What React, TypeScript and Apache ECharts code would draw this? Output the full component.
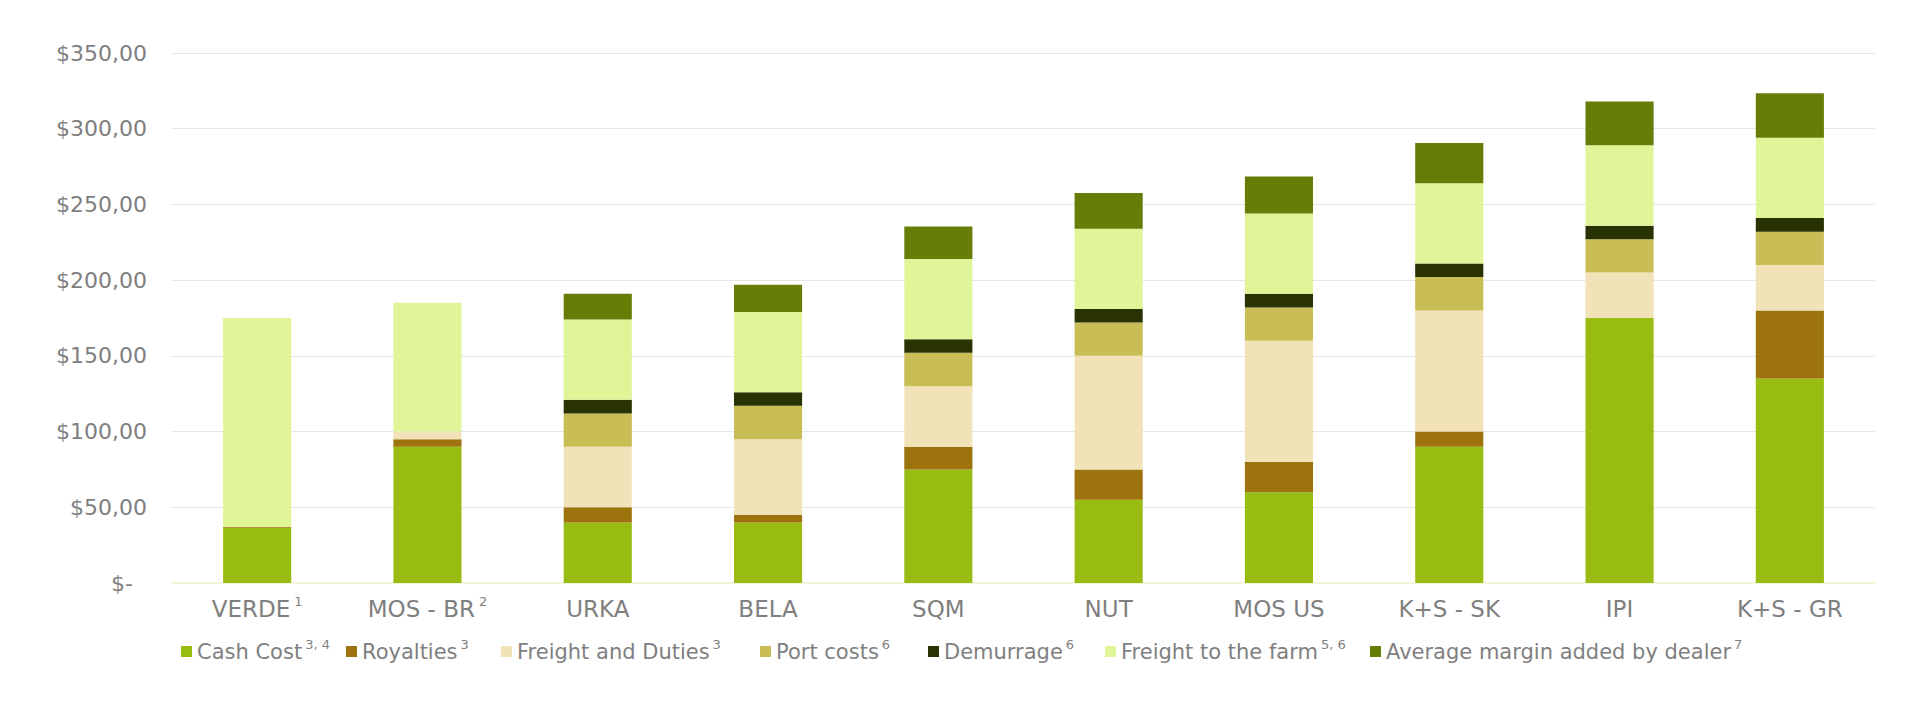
import React, { useEffect, useRef } from "react";
import * as echarts from "echarts";

const categories = ["VERDE", "MOS - BR", "URKA", "BELA", "SQM", "NUT", "MOS US", "K+S - SK", "IPI", "K+S - GR"];
const categorySup = ["1", "2", "", "", "", "", "", "", "", ""];

const cashCost = [36.5, 90, 40, 40, 75, 55, 60, 90, 175, 135];
const royalties = [0.5, 5, 10, 5, 15, 20, 20, 10, 0, 45];
const freightDuties = [0, 5, 40, 50, 40, 75, 80, 80, 30, 30];
const portCosts = [0, 0, 22, 22, 22, 22, 22, 22, 22, 22];
const demurrage = [0, 0, 9, 9, 9, 9, 9, 9, 9, 9];
const freightFarm = [138, 85, 53, 53, 53, 53, 53, 53, 53, 53];
const dealerMargin = [0, 0, 17, 18, 21.5, 23.5, 24.5, 26.5, 29, 29.5];

const seriesNames = [
  "Cash Cost",
  "Royalties",
  "Freight and Duties",
  "Port costs",
  "Demurrage",
  "Freight to the farm",
  "Average margin added by dealer",
];
const seriesSup = ["3, 4", "3", "3", "6", "6", "5, 6", "7"];
const seriesColors = ["#99BC13", "#9C730D", "#F2E2B8", "#C9BD55", "#283203", "#E0F598", "#667D07"];
const seriesData = [cashCost, royalties, freightDuties, portCosts, demurrage, freightFarm, dealerMargin];

const legendLeft = [181, 346, 501, 760, 928, 1105, 1370];

const FONT = "DejaVu Sans";
const TEXT = "#7f7f7f";

export default function App() {
  const ref = useRef<HTMLDivElement>(null);

  useEffect(() => {
    if (!ref.current) return;
    const chart = echarts.init(ref.current, null, { renderer: "svg" });

    const legends = seriesNames.map((name, i) => ({
      data: [{ name, icon: "rect" }],
      left: legendLeft[i],
      top: 638,
      itemWidth: 11,
      itemHeight: 11,
      itemGap: 0,
      padding: 0,
      selectedMode: false,
      formatter: (n: string) => `{t|${n}}{s|${seriesSup[i]}}`,
      textStyle: {
        fontFamily: FONT,
        fontSize: 21,
        color: TEXT,
        rich: {
          t: { fontFamily: FONT, fontSize: 21, color: TEXT, lineHeight: 27 },
          s: { fontFamily: FONT, fontSize: 13, color: TEXT, verticalAlign: "top", padding: [0, 0, 0, 3], lineHeight: 14 },
        },
      },
    }));

    chart.setOption({
      animation: false,
      backgroundColor: "#ffffff",
      grid: { left: 172, right: 45, top: 53, bottom: 125, containLabel: false },
      legend: legends,
      xAxis: {
        type: "category",
        data: categories,
        axisTick: { show: false },
        axisLine: { show: true, lineStyle: { color: "#F4F4DA", width: 2 } },
        axisLabel: {
          interval: 0,
          margin: 12,
          formatter: (v: string, idx: number) =>
            categorySup[idx] ? `{a|${v}}{s|${categorySup[idx]}}` : `{a|${v}}`,
          rich: {
            a: { fontFamily: FONT, fontSize: 23, color: TEXT, lineHeight: 28 },
            s: { fontFamily: FONT, fontSize: 13, color: TEXT, verticalAlign: "top", padding: [0, 0, 0, 4], lineHeight: 13 },
          },
        },
      },
      yAxis: {
        type: "value",
        min: 0,
        max: 350,
        interval: 50,
        axisLine: { show: false },
        axisTick: { show: false },
        splitLine: { lineStyle: { color: "#e6e6e6", width: 1 } },
        axisLabel: {
          margin: 25,
          fontFamily: FONT,
          fontSize: 22,
          color: TEXT,
          formatter: (v: number) => (v === 0 ? "{z|$-}" : "$" + v.toFixed(2).replace(".", ",")),
          rich: {
            z: { fontFamily: FONT, fontSize: 22, color: TEXT, padding: [0, 14, 0, 0] },
          },
        },
      },
      series: seriesNames.map((name, i) => ({
        name,
        type: "bar",
        stack: "total",
        barWidth: "40%",
        data: seriesData[i],
        itemStyle: { color: seriesColors[i] },
        emphasis: { disabled: true },
      })),
    });

    return () => chart.dispose();
  }, []);

  return (
    <div
      ref={ref}
      style={{ position: "fixed", left: 0, top: 0, width: 1920, height: 708, background: "#fff" }}
    />
  );
}
